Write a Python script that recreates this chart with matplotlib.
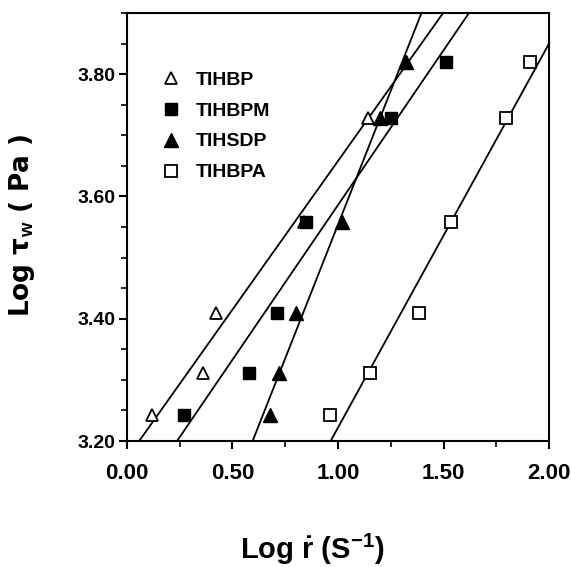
import matplotlib
matplotlib.use("Agg")
import matplotlib.pyplot as plt
import numpy as np
from matplotlib.ticker import MultipleLocator, FormatStrFormatter

# data
tihbp_x = [0.12, 0.36, 0.42, 0.84, 1.14, 1.32]
tihbp_y = [3.243, 3.311, 3.409, 3.559, 3.728, 3.820]
tihbpm_x = [0.27, 0.58, 0.71, 0.85, 1.25, 1.51]
tihbpm_y = [3.243, 3.311, 3.409, 3.559, 3.728, 3.820]
tihsdp_x = [0.68, 0.72, 0.80, 1.02, 1.20, 1.32]
tihsdp_y = [3.243, 3.311, 3.409, 3.559, 3.728, 3.820]
tihbpa_x = [0.96, 1.15, 1.385, 1.535, 1.795, 1.91]
tihbpa_y = [3.243, 3.311, 3.409, 3.559, 3.728, 3.820]

# fitted lines: (intercept, slope)
fit_tihbp = (3.172, 0.486)
fit_tihbpm = (3.080, 0.506)
fit_tihsdp = (2.679, 0.875)
fit_tihbpa = (2.594, 0.628)

fnt = ["Liberation Sans", "DejaVu Sans"]
plt.rcParams["font.family"] = fnt
plt.rcParams["mathtext.fontset"] = "custom"
plt.rcParams["mathtext.rm"] = "Liberation Sans"
plt.rcParams["mathtext.bf"] = "Liberation Sans:bold"
plt.rcParams["mathtext.it"] = "Liberation Sans:italic"

fig = plt.figure(figsize=(5.71, 5.67), dpi=100)
ax = fig.add_axes([0.2224, 0.2222, 0.7391, 0.7548])

xx = np.array([0.0, 2.0])
for a, b in [fit_tihbp, fit_tihbpm, fit_tihsdp, fit_tihbpa]:
    ax.plot(xx, a + b * xx, color="black", lw=1.3, zorder=1)

ax.plot(tihbp_x, tihbp_y, "^", ms=9, mfc="white", mec="black", mew=1.3, ls="none", label="TIHBP", zorder=2)
ax.plot(tihbpm_x, tihbpm_y, "s", ms=8, mfc="black", mec="black", ls="none", label="TIHBPM", zorder=3)
ax.plot(tihsdp_x, tihsdp_y, "^", ms=10, mfc="black", mec="black", ls="none", label="TIHSDP", zorder=4)
ax.plot(tihbpa_x, tihbpa_y, "s", ms=8, mfc="white", mec="black", mew=1.3, ls="none", label="TIHBPA", zorder=2)

ax.set_xlim(0, 2.0)
ax.set_ylim(3.20, 3.90)
ax.xaxis.set_major_locator(MultipleLocator(0.5))
ax.xaxis.set_minor_locator(MultipleLocator(0.25))
ax.yaxis.set_major_locator(MultipleLocator(0.2))
ax.yaxis.set_minor_locator(MultipleLocator(0.05))
ax.xaxis.set_major_formatter(FormatStrFormatter("%.2f"))
ax.yaxis.set_major_formatter(FormatStrFormatter("%.2f"))
ax.tick_params(which="major", direction="out", length=6, width=1.5)
ax.tick_params(which="minor", direction="out", length=4, width=1.2)
ax.tick_params(axis="x", which="major", pad=10, labelsize=16)
ax.tick_params(axis="y", which="major", pad=2, labelsize=14)
for lab in ax.get_xticklabels() + ax.get_yticklabels():
    lab.set_fontweight("bold")
for s in ax.spines.values():
    s.set_linewidth(1.5)

ax.set_xlabel(r"Log $\mathbf{\dot{r}}$ (S$^{\mathbf{-1}}$)", fontweight="bold", fontsize=21)
ax.xaxis.set_label_coords(0.44, -0.212)
ax.set_ylabel(r"Log τ$_{\mathbf{w}}$ ( Pa )", family=["DejaVu Sans"], fontweight="bold", fontsize=19)
ax.yaxis.set_label_coords(-0.213, 0.505)

leg = ax.legend(loc="upper left", bbox_to_anchor=(0.035, 0.905), frameon=False,
                prop={"weight": "bold", "size": 14},
                handletextpad=0.7, labelspacing=0.68, handlelength=1.2)

fig.savefig("out.png", dpi=100)
